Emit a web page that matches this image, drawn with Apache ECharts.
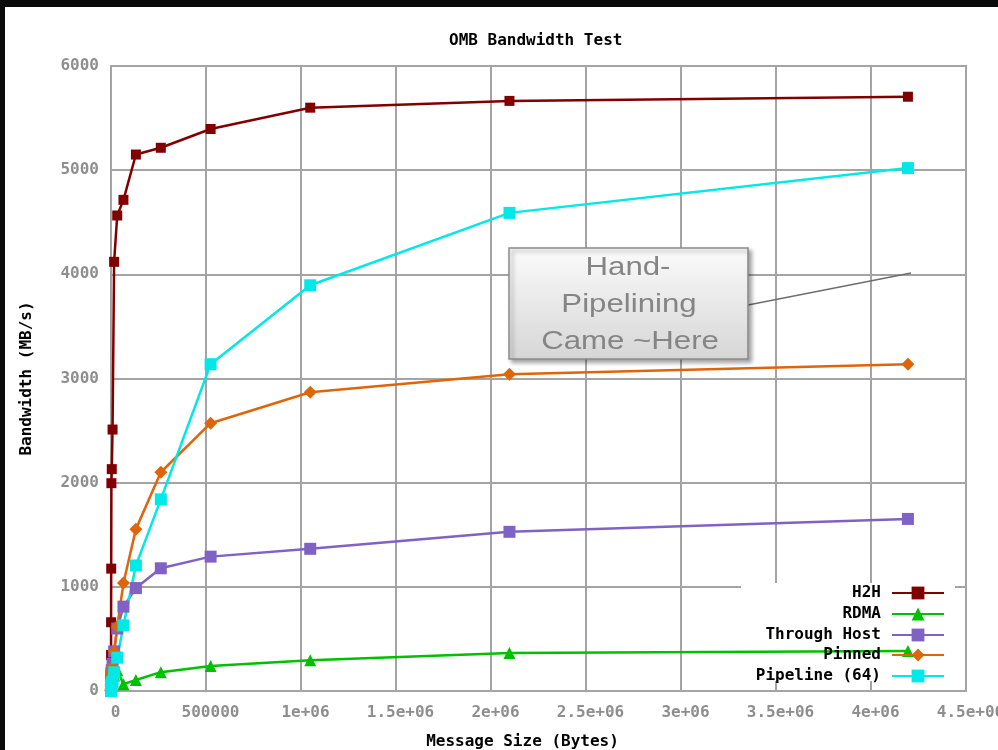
<!DOCTYPE html>
<html>
<head>
<meta charset="utf-8">
<script src="https://cdn.jsdelivr.net/npm/echarts@6/dist/echarts.min.js"></script>
<style>
html,body{margin:0;padding:0;background:#fff;}
#main{width:998px;height:750px;}
</style>
</head>
<body>
<div id="main"></div>
<script>
// Message sizes (bytes)
const sizes = [1,2,4,8,16,32,64,128,256,512,1024,2048,4096,8192,16384,32768,65536,131072,262144,524288,1048576,2097152,4194304];
// Bandwidth values (MB/s)
const h2h = [1.5,3,6,12,24,48,95,185,345,660,1175,1995,2130,2510,4120,4565,4715,5150,5215,5395,5600,5665,5705];
const rdma = [0.4,0.8,1.6,3,6,11,20,32,42,48,52,55,60,90,150,200,66,105,181,239,296,364,383];
const throughHost = [1,2,4,7,13,24,40,60,85,110,140,170,200,260,380,600,810,988,1178,1290,1365,1528,1652];
const pinned = [0.8,1.5,3,6,12,22,40,65,95,125,150,175,200,230,380,620,1036,1554,2100,2571,2868,3041,3137];
const pipeline = [0.5,1,2,3,5,8,12,18,25,35,45,60,75,90,180,320,630,1205,1840,3137,3895,4590,5020];
const seriesNames = ['H2H','RDMA','Through Host','Pinned','Pipeline (64)'];
const xTicks = [0,500000,1000000,1500000,2000000,2500000,3000000,3500000,4000000,4500000];
const xTickLabels = ['0','500000','1e+06','1.5e+06','2e+06','2.5e+06','3e+06','3.5e+06','4e+06','4.5e+06'];
const yTicks = [0,1000,2000,3000,4000,5000,6000];
const yTickLabels = ['0','1000','2000','3000','4000','5000','6000'];

const mono = 'DejaVu Sans Mono';
const gridColor = '#a4a4a4';
const labelColor = '#8e8e8e';

const seriesDefs = [
  {name: seriesNames[0], data: h2h, color: '#800000', symbol: 'rect', size: 10},
  {name: seriesNames[1], data: rdma, color: '#00c000', symbol: 'triangle', size: 12},
  {name: seriesNames[2], data: throughHost, color: '#8062c4', symbol: 'rect', size: 12},
  {name: seriesNames[3], data: pinned, color: '#e0650a', symbol: 'diamond', size: 13},
  {name: seriesNames[4], data: pipeline, color: '#00e8e8', symbol: 'rect', size: 12}
];

const chart = echarts.init(document.getElementById('main'), null, {renderer: 'canvas'});

const legendRows = [593, 614, 635, 655, 676];
const legends = seriesNames.map((n, i) => ({
  data: [n],
  right: 53,
  top: legendRows[i] - 8,
  orient: 'vertical',
  align: 'right',
  itemWidth: 52,
  itemHeight: 16,
  padding: 0,
  selectedMode: false,
  textStyle: {fontFamily: mono, fontWeight: 'bold', fontSize: 16, color: '#000', padding: [0, 6, 0, 0]}
}));

const option = {
  backgroundColor: '#fff',
  animation: false,
  title: {
    text: 'OMB Bandwidth Test',
    left: 444,
    top: 28,
    textStyle: {fontFamily: mono, fontWeight: 'bold', fontSize: 16, color: '#000'}
  },
  legend: legends,
  grid: {
    left: 111, right: 32, top: 66, bottom: 59,
    show: true, borderColor: gridColor, borderWidth: 2,
    containLabel: false, outerBoundsMode: 'none'
  },
  xAxis: {
    type: 'value',
    min: 0, max: 4500000, interval: 500000,
    name: 'Message Size (Bytes)',
    nameLocation: 'middle',
    nameGap: 43,
    nameTextStyle: {fontFamily: mono, fontWeight: 'bold', fontSize: 16, color: '#000', padding: [0, 32, 0, 0]},
    axisLine: {show: true, lineStyle: {color: gridColor, width: 2}},
    axisTick: {show: false},
    splitLine: {show: true, lineStyle: {color: gridColor, width: 2}},
    axisLabel: {
      fontFamily: mono, fontWeight: 'bold', fontSize: 16, color: labelColor, margin: 14,
      padding: [0, 0, 0, 9], hideOverlap: false, showMaxLabel: true,
      formatter: function (v) { const i = xTicks.indexOf(v); return i >= 0 ? xTickLabels[i] : ''; }
    }
  },
  yAxis: {
    type: 'value',
    min: 0, max: 6000, interval: 1000,
    name: 'Bandwidth (MB/s)',
    nameLocation: 'middle',
    nameGap: 76,
    nameRotate: 90,
    nameTextStyle: {fontFamily: mono, fontWeight: 'bold', fontSize: 16, color: '#000'},
    axisLine: {show: true, lineStyle: {color: gridColor, width: 2}},
    axisTick: {show: false},
    splitLine: {show: true, lineStyle: {color: gridColor, width: 2}},
    axisLabel: {
      fontFamily: mono, fontWeight: 'bold', fontSize: 16, color: labelColor, margin: 12,
      formatter: function (v) { const i = yTicks.indexOf(v); return i >= 0 ? yTickLabels[i] : ''; }
    }
  },
  series: seriesDefs.map(d => ({
    name: d.name,
    type: 'line',
    data: sizes.map((s, i) => [s, d.data[i]]),
    symbol: d.symbol,
    symbolSize: d.size,
    showAllSymbol: true,
    clip: false,
    color: d.color,
    itemStyle: {color: d.color},
    lineStyle: {color: d.color, width: 2.5}
  })),
  graphic: [
    // key background (covers grid, below series)
    {type: 'rect', z: 1, silent: true, shape: {x: 741, y: 583, width: 214, height: 98}, style: {fill: '#fff'}},
    // annotation box
    {type: 'line', z: 10, shape: {x1: 748, y1: 305, x2: 911, y2: 273}, style: {stroke: '#6e6e6e', lineWidth: 1.5}},
    {type: 'rect', z: 10, shape: {x: 509, y: 248, width: 239, height: 111},
      style: {
        fill: new echarts.graphic.LinearGradient(0, 0, 0, 1, [{offset: 0, color: '#fbfbfb'}, {offset: 1, color: '#d6d6d6'}]),
        stroke: '#8a8a8a', lineWidth: 1.5,
        shadowBlur: 4, shadowOffsetX: 3, shadowOffsetY: 3, shadowColor: 'rgba(0,0,0,0.35)'
      }},
    {type: 'text', z: 11, x: 628, y: 268, scaleX: 1.2, style: {text: 'Hand-', fontFamily: 'Liberation Sans', fontSize: 26, fill: '#858585', align: 'center', verticalAlign: 'middle'}},
    {type: 'text', z: 11, x: 629, y: 305, scaleX: 1.2, style: {text: 'Pipelining', fontFamily: 'Liberation Sans', fontSize: 26, fill: '#858585', align: 'center', verticalAlign: 'middle'}},
    {type: 'text', z: 11, x: 630, y: 342, scaleX: 1.2, style: {text: 'Came ~Here', fontFamily: 'Liberation Sans', fontSize: 26, fill: '#858585', align: 'center', verticalAlign: 'middle'}},
    // black screenshot frame
    {type: 'rect', z: 100, shape: {x: 0, y: 0, width: 998, height: 7}, style: {fill: '#0a0a0a'}},
    {type: 'rect', z: 100, shape: {x: 0, y: 0, width: 5, height: 750}, style: {fill: '#0a0a0a'}}
  ]
};
chart.setOption(option);
</script>
</body>
</html>
